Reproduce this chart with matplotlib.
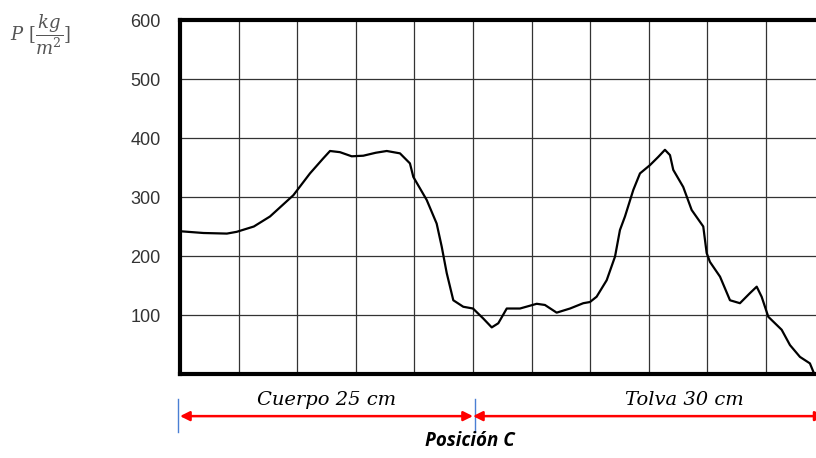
import matplotlib
matplotlib.use('Agg')
from matplotlib import pyplot as plt

# posicion a lo largo del silo (cm) y presion leida (kg/m2)
posicion = [0.0, 2.0, 4.0, 4.84, 6.3, 7.68, 9.67, 11.09, 12.2, 12.80, 13.65, 14.65,
            15.64, 16.7, 17.64, 18.77, 19.62, 19.91, 21.05, 21.90, 22.33, 22.76,
            23.32, 24.17, 25.0, 25.88, 26.6, 27.16, 27.88, 29.01, 30.44, 31.14,
            32.14, 33.28, 34.41, 34.98, 35.55, 36.41, 37.12, 37.54, 37.97, 38.68,
            39.25, 40.10, 40.81, 41.38, 41.81, 42.09, 42.94, 43.66, 44.65, 44.94,
            45.22, 46.08, 46.93, 47.78, 48.63, 49.21, 49.63, 50.20, 51.34, 52.05,
            52.90, 53.75, 54.04]
presion = [242, 239, 238, 241, 250, 267, 303, 340, 365, 378, 376, 369,
           370, 375, 378, 374, 357, 334, 295, 255, 216, 171,
           125, 114, 111, 94, 79, 86, 111, 111, 119, 117,
           104, 111, 120, 122, 131, 159, 199, 244, 267, 312,
           340, 354, 368, 380, 371, 346, 317, 278, 250, 205,
           190, 165, 125, 120, 137, 148, 131, 97, 75, 49,
           29, 18, 4]

yticks = [100, 200, 300, 400, 500, 600]
xgrid = [5, 10, 15, 20, 25, 30, 35, 40, 45, 50]
cuerpo = 25
tolva = 30

plt.rcParams['mathtext.fontset'] = 'dejavuserif'

fig = plt.figure(figsize=(8.16, 4.58), dpi=100)
ax = fig.add_axes([0.2206, 0.1834, 0.7794, 0.7729])

# rejilla
for x in xgrid:
    ax.axvline(x, color='#333333', lw=0.9, zorder=1)
for y in yticks[:-1]:
    ax.axhline(y, color='#333333', lw=0.9, zorder=1)

# curva de presion
ax.plot(posicion, presion, color='black', lw=1.6, zorder=3,
        solid_joinstyle='round')

ax.set_xlim(0, 54.27)
ax.set_ylim(0, 600)
ax.set_xticks([])
ax.set_yticks(yticks)
ax.tick_params(axis='y', length=0, pad=14, labelsize=13, labelcolor='#333333')
for lab in ax.get_yticklabels():
    lab.set_family('Liberation Sans')
for s in ['left', 'top', 'bottom']:
    ax.spines[s].set_linewidth(3)
ax.spines['right'].set_visible(False)

# etiqueta del eje y
fig.text(0.012, 0.925, r'$P\ [\dfrac{kg}{m^2}]$', fontsize=13, color='#555555',
         ha='left', va='center')

# flechas de cotas
trans = ax.get_xaxis_transform()
yarr = -0.119
ax.annotate('', xy=(0, yarr), xytext=(cuerpo, yarr), xycoords=trans,
            arrowprops=dict(arrowstyle='<|-|>', color='red', lw=1.8,
                            mutation_scale=14, shrinkA=0, shrinkB=0),
            annotation_clip=False)
ax.annotate('', xy=(cuerpo, yarr), xytext=(cuerpo + tolva, yarr), xycoords=trans,
            arrowprops=dict(arrowstyle='<|-|>', color='red', lw=1.8,
                            mutation_scale=14, shrinkA=0, shrinkB=0),
            annotation_clip=False)
for x in [-0.15, cuerpo + 0.2]:
    ax.plot([x, x], [-0.072, -0.164], transform=trans, color='#4a7fd4',
            lw=1.0, clip_on=False)

ax.text(cuerpo / 2, -0.098, 'Cuerpo 25 cm', transform=trans, ha='center',
        va='bottom', fontsize=14, family='DejaVu Serif', style='italic')
ax.text(cuerpo + 18, -0.098, 'Tolva 30 cm', transform=trans, ha='center',
        va='bottom', fontsize=14, family='DejaVu Serif', style='italic')
ax.text(cuerpo - 0.3, -0.19, 'Posición C', transform=trans, ha='center',
        va='center', fontsize=13.5, family='Open Sans', weight='bold',
        style='italic')

plt.savefig('out.png', dpi=100)
